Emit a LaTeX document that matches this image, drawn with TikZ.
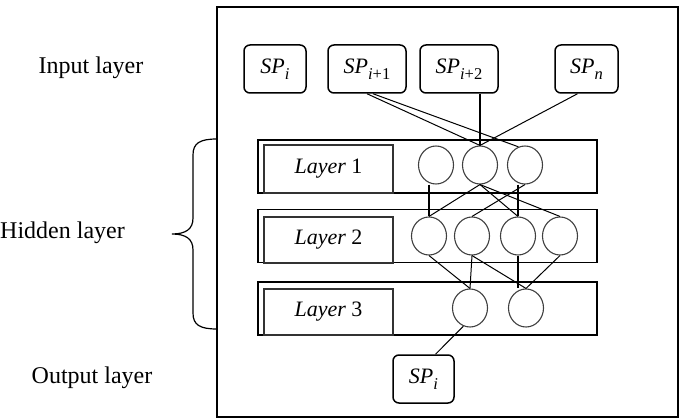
\documentclass[tikz,border=0pt]{standalone}
\usepackage{fontspec}
\setmainfont{Liberation Serif}
\usetikzlibrary{shapes.geometric}
\newcommand{\spx}[1]{{\itshape SP}\raisebox{-0.55ex}{\fontsize{16.5}{16.5}\selectfont #1}}
\begin{document}
\begin{tikzpicture}[x=1pt,y=-1pt,
 inbox/.style={draw, rounded corners=6pt, line width=1.5pt, minimum height=48pt, inner sep=0pt, font=\fontsize{22}{22}\selectfont},
 neuron/.style={ellipse, draw=black!75, line width=1.1pt, minimum width=35pt, minimum height=38pt, inner sep=0pt},
 band/.style={draw, line width=1.5pt, minimum width=339pt, minimum height=53pt, inner sep=0pt},
 labbox/.style={draw=black!80, line width=1.1pt, minimum width=129pt, minimum height=48pt, inner sep=0pt, font=\fontsize{22}{22}\selectfont},
 conn/.style={line width=1pt},
 vconn/.style={line width=1.4pt},
 side/.style={font=\fontsize{24}{24}\selectfont, inner sep=0pt}]
\useasboundingbox (0,0) rectangle (681,420);
% outer frame
\node[draw, line width=1.8pt, minimum width=461pt, minimum height=410pt, inner sep=0pt] (frame) at (447.5,212) {};
% side labels
\node[side] (tin) at (91,68) {Input layer};
\node[side, anchor=west] (thid) at (0,233) {Hidden layer};
\node[side] (tout) at (92,378) {Output layer};
% brace
\coordinate (bt) at (217,139);
\coordinate (btip) at (172,234);
\coordinate (bb) at (217,329);
\draw[line width=1.2pt] (bt) .. controls (200,139) and (193,143) .. (193,155) -- (193,218)
  .. controls (193,229) and (186,234) .. (btip)
  .. controls (186,234) and (193,239) .. (193,250) -- (193,313)
  .. controls (193,325) and (200,329) .. (bb);
% bands
\node[band] (b1) at (427.5,166.5) {};
\node[band] (b2) at (427.5,236) {};
\node[band] (b3) at (427.5,308.5) {};
\node[labbox] (lab1) at (328.5,169) {\textit{Layer} 1};
\node[labbox, minimum height=46pt] (lab2) at (328.5,240) {\textit{Layer} 2};
\node[labbox, minimum height=46pt] (lab3) at (328.5,312) {\textit{Layer} 3};
% input boxes
\node[inbox, minimum width=62pt] (in1) at (275,69) {\spx{\textit{i}}};
\node[inbox, minimum width=78pt] (in2) at (367,69) {\spx{\textit{i}+1}};
\node[inbox, minimum width=78pt] (in3) at (459,69) {\spx{\textit{i}+2}};
\node[inbox, minimum width=63pt] (inn) at (586.5,69) {\spx{\textit{n}}};
% output box
\node[inbox, minimum width=61pt] (out) at (423.5,379) {\spx{\textit{i}}};
% neurons
\node[neuron] (l1a) at (436,165) {};
\node[neuron] (l1b) at (480,165) {};
\node[neuron] (l1c) at (525,165) {};
\node[neuron] (l2a) at (429,236) {};
\node[neuron] (l2b) at (472,236) {};
\node[neuron] (l2c) at (518,236) {};
\node[neuron] (l2d) at (560,236) {};
\node[neuron] (l3a) at (470,308) {};
\node[neuron] (l3b) at (526,308) {};
% input -> layer 1
\draw[conn] (in2.south) -- (l1b.north);
\draw[conn] ([xshift=6pt]in2.south) -- (l1c.110);
\draw[vconn] (in3.south -| l1b.north) -- (l1b.north);
\draw[conn] ([xshift=-9pt]inn.south) -- (l1b.north);
% layer 1 -> layer 2
\draw[vconn] (l1a.south -| l2a.north) -- (l2a.north);
\draw[conn] (l1b.south) -- (l2a.north);
\draw[conn] (l1b.south) -- (l2c.north);
\draw[conn] (l1b.south) -- (l2d.north);
\draw[conn] (l1c.south) -- (l2b.north);
\draw[vconn] (l1c.south -| l2c.north) -- (l2c.north);
% layer 2 -> layer 3
\draw[conn] (l2a.south) -- (l3a.north);
\draw[conn] (l2b.south) -- (l3a.north);
\draw[conn] (l2b.south) -- (l3b.north);
\draw[vconn] (l2c.south) -- (l2c.south |- l3b.north);
\draw[conn] (l2d.south) -- (l3b.north);
% layer 3 -> output
\draw[conn] ([xshift=12pt]out.north) -- (l3a.250);
\end{tikzpicture}
\end{document}
